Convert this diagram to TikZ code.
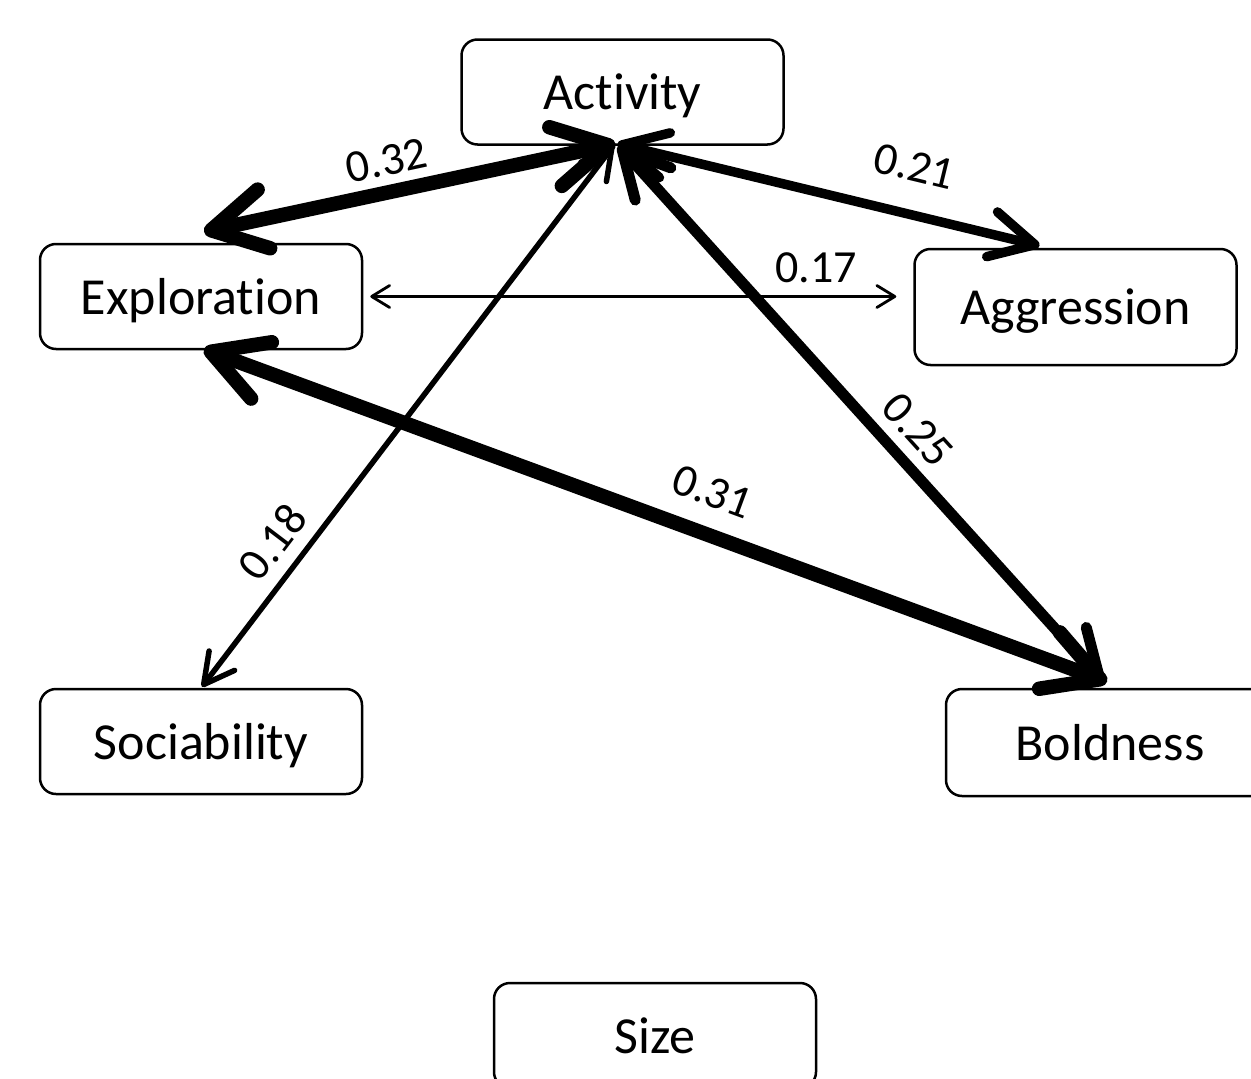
\documentclass[tikz,border=0pt]{standalone}
\usepackage{fontspec}
\setmainfont{Carlito}[Ligatures=NoCommon]
\usetikzlibrary{arrows.meta,calc}
\newcommand{\nodefnt}{\fontsize{52}{60}\selectfont}
\newcommand{\labfnt}{\fontsize{46}{54}\selectfont}
\tikzset{
  box/.style={draw, line width=2.5pt, rounded corners=16pt, minimum width=322pt,
    minimum height=105pt, inner sep=0pt, font=\nodefnt, fill=white,
    text height=40pt, text depth=4.6pt},
  lab/.style={inner sep=0pt, font=\labfnt},
  corr/.style n args={3}{line width=#1, line cap=round,
    {Straight Barb[round,length=#2,width=#3]}-{Straight Barb[round,length=#2,width=#3]}}
}
\begin{document}
\begin{tikzpicture}[x=1pt,y=-1pt]
\useasboundingbox (0,0) rectangle (1251,1079);
\clip (0,0) rectangle (1251,1079);
\fill[white] (0,0) rectangle (1251,1079);
% nodes
\node[box] (act) at (622.5,92) {Activity};
\node[box, minimum height=116pt] (agg) at (1075.5,307) {Aggression};
\node[box] (exp) at (201,296.5) {Exploration};
\node[box] (soc) at (201,741.5) {Sociability};
\node[box, minimum width=328pt, minimum height=107pt] (bold) at (1110,742.5) {Boldness};
\node[box] (size) at (655,1035.5) {Size};
% connectors
\coordinate (hub) at ($(act.south)+(-7,-2)$);
\draw[corr={14.5pt}{54pt}{60pt}] (hub) -- ($(exp.north)+(3,-11)$)
  node[lab, pos=0.54, above=9pt, sloped] {0.32};
\draw[corr={9.5pt}{44pt}{46pt}] ($(act.south)+(-5,-2)$) -- ($(agg.north)+(-36,-2)$)
  node[lab, pos=0.677, above=28pt, sloped] {0.21};
\draw[corr={2.8pt}{18pt}{22pt}] ($(exp.east)+(7,0)$) -- ($(exp.east -| agg.west)+(-17,0)$)
  node[lab, pos=0.848, above=12pt] {0.17};
\draw[corr={14.5pt}{54pt}{60pt}] ($(exp.south)+(3,-1)$) -- ($(bold.north)+(-3,-6)$)
  node[lab, pos=0.547, above=20pt, sloped] {0.31};
\draw[corr={11pt}{46pt}{48pt}] ($(act.south)+(-4,0)$) -- ($(bold.north)+(-7,-6)$)
  node[lab, pos=0.57, above=11pt, sloped] {0.25};
\draw[corr={5.5pt}{30pt}{32pt}] ($(soc.north)+(1,-1)$) -- ($(act.south)+(-9,0)$)
  node[lab, pos=0.232, above=13pt, sloped] {0.18};
\end{tikzpicture}
\end{document}
